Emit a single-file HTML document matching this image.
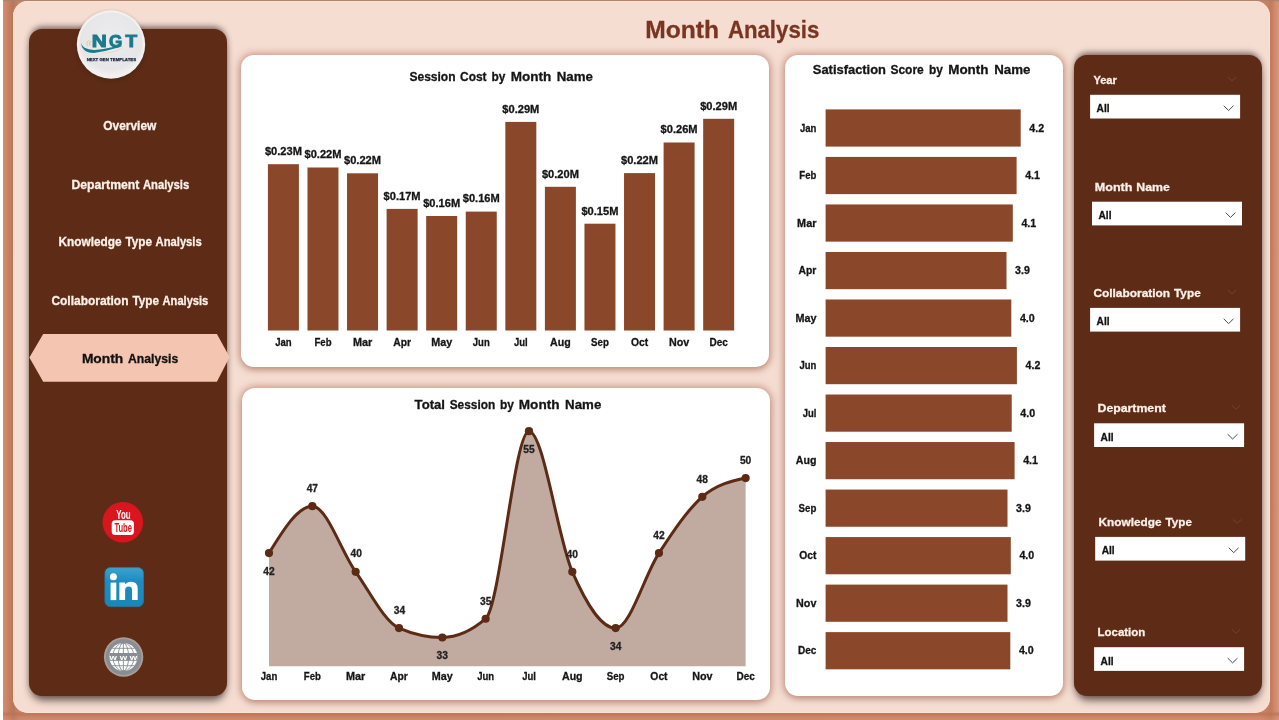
<!DOCTYPE html>
<html><head><meta charset="utf-8"><title>Month Analysis</title>
<style>
html,body{margin:0;padding:0;}
body{width:1279px;height:720px;overflow:hidden;position:relative;background:#fffefb;font-family:"Liberation Sans", sans-serif;}
.abs{position:absolute;}
#outer{left:3px;top:0;width:1276px;height:720px;background:linear-gradient(90deg,#d28d75 0px,#cb8465 4px,#c07b5b 8px,#b97557 10px,#c9856a 16px,#cf8868 1258px,#c27b5c 1268px,#cf8a6c 1272px,#d9977c 1276px);}
#outer2{left:3px;top:0;width:1276px;height:720px;background:linear-gradient(180deg,rgba(168,128,108,1) 0px,rgba(168,128,108,0) 2px,rgba(0,0,0,0) 711px,rgba(185,115,85,.8) 714px,rgba(200,130,100,.3) 717px,rgba(215,145,120,.4) 720px);}
#inner{left:13px;top:1px;width:1257px;height:712px;border-radius:15px;background:#f5ddd2;box-shadow:inset 0 0 1px 1px rgba(255,224,212,.95);}
.panel{background:#5e2c16;border-radius:13px;box-shadow:0 0 6px 0 rgba(70,50,45,.32),0 -5px 6px -3px rgba(60,42,38,.6),0 7px 9px -3px rgba(60,42,38,.75);}
.card{background:#fff;border-radius:13px;box-shadow:0 0 7px 2px rgba(175,112,90,.58),0 4px 7px -2px rgba(140,98,82,.42);}
svg text{font-family:"Liberation Sans", sans-serif;}
</style></head><body>
<div id="outer" class="abs"></div>
<div id="outer2" class="abs"></div>
<div id="inner" class="abs"></div>
<div class="abs panel" style="left:29px;top:29px;width:197.5px;height:666.5px;"></div>
<div class="abs panel" style="left:1074px;top:55px;width:188px;height:640.5px;"></div>
<div class="abs card" style="left:241px;top:55px;width:528px;height:312px;"></div>
<div class="abs card" style="left:242px;top:388px;width:528px;height:312px;"></div>
<div class="abs card" style="left:785px;top:55px;width:278px;height:641px;"></div>
<svg class="abs" style="left:0;top:0;will-change:transform" width="1279" height="720" viewBox="0 0 1279 720">
<text x="645.3" y="37.6" font-size="24.3" font-weight="bold" fill="#7a3520" text-anchor="start" textLength="73.8" lengthAdjust="spacingAndGlyphs" stroke="#7a3520" stroke-width="0.3">Month</text>
<text x="727.9" y="37.6" font-size="24.3" font-weight="bold" fill="#7a3520" text-anchor="start" textLength="91.4" lengthAdjust="spacingAndGlyphs" stroke="#7a3520" stroke-width="0.3">Analysis</text>
<text x="409.4" y="81.2" font-size="12.8" font-weight="bold" fill="#151515" text-anchor="start" textLength="46.2" lengthAdjust="spacingAndGlyphs" stroke="#151515" stroke-width="0.3">Session</text>
<text x="460.0" y="81.2" font-size="12.8" font-weight="bold" fill="#151515" text-anchor="start" textLength="26.6" lengthAdjust="spacingAndGlyphs" stroke="#151515" stroke-width="0.3">Cost</text>
<text x="491.6" y="81.2" font-size="12.8" font-weight="bold" fill="#151515" text-anchor="start" textLength="13.9" lengthAdjust="spacingAndGlyphs" stroke="#151515" stroke-width="0.3">by</text>
<text x="510.7" y="81.2" font-size="12.8" font-weight="bold" fill="#151515" text-anchor="start" textLength="40.5" lengthAdjust="spacingAndGlyphs" stroke="#151515" stroke-width="0.3">Month</text>
<text x="556.7" y="81.2" font-size="12.8" font-weight="bold" fill="#151515" text-anchor="start" textLength="36.2" lengthAdjust="spacingAndGlyphs" stroke="#151515" stroke-width="0.3">Name</text>
<rect x="267.90" y="164.2" width="31" height="166.30" fill="#8b4729"/>
<text x="283.4" y="155.0" font-size="11.2" font-weight="bold" fill="#151515" text-anchor="middle" textLength="37" lengthAdjust="spacingAndGlyphs" stroke="#151515" stroke-width="0.3">$0.23M</text>
<text x="283.4" y="346" font-size="11" font-weight="bold" fill="#151515" text-anchor="middle" textLength="16.5" lengthAdjust="spacingAndGlyphs" stroke="#151515" stroke-width="0.3">Jan</text>
<rect x="307.47" y="167.5" width="31" height="163.00" fill="#8b4729"/>
<text x="322.97" y="158.3" font-size="11.2" font-weight="bold" fill="#151515" text-anchor="middle" textLength="37" lengthAdjust="spacingAndGlyphs" stroke="#151515" stroke-width="0.3">$0.22M</text>
<text x="322.97" y="346" font-size="11" font-weight="bold" fill="#151515" text-anchor="middle" textLength="17.1" lengthAdjust="spacingAndGlyphs" stroke="#151515" stroke-width="0.3">Feb</text>
<rect x="347.04" y="173.3" width="31" height="157.20" fill="#8b4729"/>
<text x="362.54" y="164.1" font-size="11.2" font-weight="bold" fill="#151515" text-anchor="middle" textLength="37" lengthAdjust="spacingAndGlyphs" stroke="#151515" stroke-width="0.3">$0.22M</text>
<text x="362.54" y="346" font-size="11" font-weight="bold" fill="#151515" text-anchor="middle" textLength="19.3" lengthAdjust="spacingAndGlyphs" stroke="#151515" stroke-width="0.3">Mar</text>
<rect x="386.61" y="208.9" width="31" height="121.60" fill="#8b4729"/>
<text x="402.11" y="199.7" font-size="11.2" font-weight="bold" fill="#151515" text-anchor="middle" textLength="37" lengthAdjust="spacingAndGlyphs" stroke="#151515" stroke-width="0.3">$0.17M</text>
<text x="402.11" y="346" font-size="11" font-weight="bold" fill="#151515" text-anchor="middle" textLength="17.8" lengthAdjust="spacingAndGlyphs" stroke="#151515" stroke-width="0.3">Apr</text>
<rect x="426.18" y="216" width="31" height="114.50" fill="#8b4729"/>
<text x="441.68" y="206.8" font-size="11.2" font-weight="bold" fill="#151515" text-anchor="middle" textLength="37" lengthAdjust="spacingAndGlyphs" stroke="#151515" stroke-width="0.3">$0.16M</text>
<text x="441.68" y="346" font-size="11" font-weight="bold" fill="#151515" text-anchor="middle" textLength="21" lengthAdjust="spacingAndGlyphs" stroke="#151515" stroke-width="0.3">May</text>
<rect x="465.75" y="211.6" width="31" height="118.90" fill="#8b4729"/>
<text x="481.25" y="202.4" font-size="11.2" font-weight="bold" fill="#151515" text-anchor="middle" textLength="37" lengthAdjust="spacingAndGlyphs" stroke="#151515" stroke-width="0.3">$0.16M</text>
<text x="481.25" y="346" font-size="11" font-weight="bold" fill="#151515" text-anchor="middle" textLength="16.9" lengthAdjust="spacingAndGlyphs" stroke="#151515" stroke-width="0.3">Jun</text>
<rect x="505.32" y="121.9" width="31" height="208.60" fill="#8b4729"/>
<text x="520.82" y="112.7" font-size="11.2" font-weight="bold" fill="#151515" text-anchor="middle" textLength="37" lengthAdjust="spacingAndGlyphs" stroke="#151515" stroke-width="0.3">$0.29M</text>
<text x="520.82" y="346" font-size="11" font-weight="bold" fill="#151515" text-anchor="middle" textLength="13.7" lengthAdjust="spacingAndGlyphs" stroke="#151515" stroke-width="0.3">Jul</text>
<rect x="544.89" y="186.8" width="31" height="143.70" fill="#8b4729"/>
<text x="560.39" y="177.6" font-size="11.2" font-weight="bold" fill="#151515" text-anchor="middle" textLength="37" lengthAdjust="spacingAndGlyphs" stroke="#151515" stroke-width="0.3">$0.20M</text>
<text x="560.39" y="346" font-size="11" font-weight="bold" fill="#151515" text-anchor="middle" textLength="20.6" lengthAdjust="spacingAndGlyphs" stroke="#151515" stroke-width="0.3">Aug</text>
<rect x="584.46" y="223.7" width="31" height="106.80" fill="#8b4729"/>
<text x="599.96" y="214.5" font-size="11.2" font-weight="bold" fill="#151515" text-anchor="middle" textLength="37" lengthAdjust="spacingAndGlyphs" stroke="#151515" stroke-width="0.3">$0.15M</text>
<text x="599.96" y="346" font-size="11" font-weight="bold" fill="#151515" text-anchor="middle" textLength="17.8" lengthAdjust="spacingAndGlyphs" stroke="#151515" stroke-width="0.3">Sep</text>
<rect x="624.03" y="173.1" width="31" height="157.40" fill="#8b4729"/>
<text x="639.53" y="163.9" font-size="11.2" font-weight="bold" fill="#151515" text-anchor="middle" textLength="37" lengthAdjust="spacingAndGlyphs" stroke="#151515" stroke-width="0.3">$0.22M</text>
<text x="639.53" y="346" font-size="11" font-weight="bold" fill="#151515" text-anchor="middle" textLength="17.2" lengthAdjust="spacingAndGlyphs" stroke="#151515" stroke-width="0.3">Oct</text>
<rect x="663.60" y="142.5" width="31" height="188.00" fill="#8b4729"/>
<text x="679.1" y="133.3" font-size="11.2" font-weight="bold" fill="#151515" text-anchor="middle" textLength="37" lengthAdjust="spacingAndGlyphs" stroke="#151515" stroke-width="0.3">$0.26M</text>
<text x="679.1" y="346" font-size="11" font-weight="bold" fill="#151515" text-anchor="middle" textLength="20.3" lengthAdjust="spacingAndGlyphs" stroke="#151515" stroke-width="0.3">Nov</text>
<rect x="703.17" y="118.8" width="31" height="211.70" fill="#8b4729"/>
<text x="718.67" y="109.6" font-size="11.2" font-weight="bold" fill="#151515" text-anchor="middle" textLength="37" lengthAdjust="spacingAndGlyphs" stroke="#151515" stroke-width="0.3">$0.29M</text>
<text x="718.67" y="346" font-size="11" font-weight="bold" fill="#151515" text-anchor="middle" textLength="18.4" lengthAdjust="spacingAndGlyphs" stroke="#151515" stroke-width="0.3">Dec</text>
<text x="414.6" y="409.3" font-size="12.8" font-weight="bold" fill="#151515" text-anchor="start" textLength="30.4" lengthAdjust="spacingAndGlyphs" stroke="#151515" stroke-width="0.3">Total</text>
<text x="449.7" y="409.3" font-size="12.8" font-weight="bold" fill="#151515" text-anchor="start" textLength="45.6" lengthAdjust="spacingAndGlyphs" stroke="#151515" stroke-width="0.3">Session</text>
<text x="500.0" y="409.3" font-size="12.8" font-weight="bold" fill="#151515" text-anchor="start" textLength="13.9" lengthAdjust="spacingAndGlyphs" stroke="#151515" stroke-width="0.3">by</text>
<text x="518.8" y="409.3" font-size="12.8" font-weight="bold" fill="#151515" text-anchor="start" textLength="40.7" lengthAdjust="spacingAndGlyphs" stroke="#151515" stroke-width="0.3">Month</text>
<text x="565.1" y="409.3" font-size="12.8" font-weight="bold" fill="#151515" text-anchor="start" textLength="36.2" lengthAdjust="spacingAndGlyphs" stroke="#151515" stroke-width="0.3">Name</text>
<path d="M269.00,553.10C283.44,529.66 297.89,506.22 312.33,506.22C326.77,506.22 341.22,551.54 355.66,571.86C370.10,592.17 384.55,621.87 398.99,628.12C413.43,634.37 427.88,637.49 442.32,637.49C456.76,637.49 471.21,631.24 485.65,618.74C500.09,606.24 514.54,431.20 528.98,431.20C543.42,431.20 557.87,539.04 572.31,571.86C586.75,604.67 601.20,628.12 615.64,628.12C630.08,628.12 644.53,574.98 658.97,553.10C673.41,531.22 687.86,509.34 702.30,496.84C716.74,484.34 731.19,481.21 745.63,478.08L745.63,666.3L269.00,666.3Z" fill="#c1aba1"/>
<path d="M269.00,553.10C283.44,529.66 297.89,506.22 312.33,506.22C326.77,506.22 341.22,551.54 355.66,571.86C370.10,592.17 384.55,621.87 398.99,628.12C413.43,634.37 427.88,637.49 442.32,637.49C456.76,637.49 471.21,631.24 485.65,618.74C500.09,606.24 514.54,431.20 528.98,431.20C543.42,431.20 557.87,539.04 572.31,571.86C586.75,604.67 601.20,628.12 615.64,628.12C630.08,628.12 644.53,574.98 658.97,553.10C673.41,531.22 687.86,509.34 702.30,496.84C716.74,484.34 731.19,481.21 745.63,478.08" fill="none" stroke="#5c2a15" stroke-width="3" stroke-linecap="round"/>
<circle cx="269.00" cy="553.10" r="4.1" fill="#5c2a15"/>
<circle cx="312.33" cy="506.22" r="4.1" fill="#5c2a15"/>
<circle cx="355.66" cy="571.86" r="4.1" fill="#5c2a15"/>
<circle cx="398.99" cy="628.12" r="4.1" fill="#5c2a15"/>
<circle cx="442.32" cy="637.49" r="4.1" fill="#5c2a15"/>
<circle cx="485.65" cy="618.74" r="4.1" fill="#5c2a15"/>
<circle cx="528.98" cy="431.20" r="4.1" fill="#5c2a15"/>
<circle cx="572.31" cy="571.86" r="4.1" fill="#5c2a15"/>
<circle cx="615.64" cy="628.12" r="4.1" fill="#5c2a15"/>
<circle cx="658.97" cy="553.10" r="4.1" fill="#5c2a15"/>
<circle cx="702.30" cy="496.84" r="4.1" fill="#5c2a15"/>
<circle cx="745.63" cy="478.08" r="4.1" fill="#5c2a15"/>
<text x="269.0" y="574.7" font-size="10.6" font-weight="bold" fill="#222" text-anchor="middle" textLength="11.4" lengthAdjust="spacingAndGlyphs" stroke="#222" stroke-width="0.3">42</text>
<text x="269.0" y="680" font-size="11" font-weight="bold" fill="#151515" text-anchor="middle" textLength="16.5" lengthAdjust="spacingAndGlyphs" stroke="#151515" stroke-width="0.3">Jan</text>
<text x="312.33" y="492.2" font-size="10.6" font-weight="bold" fill="#222" text-anchor="middle" textLength="11.4" lengthAdjust="spacingAndGlyphs" stroke="#222" stroke-width="0.3">47</text>
<text x="312.33" y="680" font-size="11" font-weight="bold" fill="#151515" text-anchor="middle" textLength="17.1" lengthAdjust="spacingAndGlyphs" stroke="#151515" stroke-width="0.3">Feb</text>
<text x="356.16" y="557.1" font-size="10.6" font-weight="bold" fill="#222" text-anchor="middle" textLength="11.4" lengthAdjust="spacingAndGlyphs" stroke="#222" stroke-width="0.3">40</text>
<text x="355.66" y="680" font-size="11" font-weight="bold" fill="#151515" text-anchor="middle" textLength="19.3" lengthAdjust="spacingAndGlyphs" stroke="#151515" stroke-width="0.3">Mar</text>
<text x="399.39" y="613.8" font-size="10.6" font-weight="bold" fill="#222" text-anchor="middle" textLength="11.4" lengthAdjust="spacingAndGlyphs" stroke="#222" stroke-width="0.3">34</text>
<text x="398.99" y="680" font-size="11" font-weight="bold" fill="#151515" text-anchor="middle" textLength="17.8" lengthAdjust="spacingAndGlyphs" stroke="#151515" stroke-width="0.3">Apr</text>
<text x="442.32" y="659.1" font-size="10.6" font-weight="bold" fill="#222" text-anchor="middle" textLength="11.4" lengthAdjust="spacingAndGlyphs" stroke="#222" stroke-width="0.3">33</text>
<text x="442.32" y="680" font-size="11" font-weight="bold" fill="#151515" text-anchor="middle" textLength="21" lengthAdjust="spacingAndGlyphs" stroke="#151515" stroke-width="0.3">May</text>
<text x="485.65" y="605.0" font-size="10.6" font-weight="bold" fill="#222" text-anchor="middle" textLength="11.4" lengthAdjust="spacingAndGlyphs" stroke="#222" stroke-width="0.3">35</text>
<text x="485.65" y="680" font-size="11" font-weight="bold" fill="#151515" text-anchor="middle" textLength="16.9" lengthAdjust="spacingAndGlyphs" stroke="#151515" stroke-width="0.3">Jun</text>
<text x="528.98" y="452.8" font-size="10.6" font-weight="bold" fill="#222" text-anchor="middle" textLength="11.4" lengthAdjust="spacingAndGlyphs" stroke="#222" stroke-width="0.3">55</text>
<text x="528.98" y="680" font-size="11" font-weight="bold" fill="#151515" text-anchor="middle" textLength="13.7" lengthAdjust="spacingAndGlyphs" stroke="#151515" stroke-width="0.3">Jul</text>
<text x="572.31" y="557.9" font-size="10.6" font-weight="bold" fill="#222" text-anchor="middle" textLength="11.4" lengthAdjust="spacingAndGlyphs" stroke="#222" stroke-width="0.3">40</text>
<text x="572.31" y="680" font-size="11" font-weight="bold" fill="#151515" text-anchor="middle" textLength="20.6" lengthAdjust="spacingAndGlyphs" stroke="#151515" stroke-width="0.3">Aug</text>
<text x="615.64" y="649.7" font-size="10.6" font-weight="bold" fill="#222" text-anchor="middle" textLength="11.4" lengthAdjust="spacingAndGlyphs" stroke="#222" stroke-width="0.3">34</text>
<text x="615.64" y="680" font-size="11" font-weight="bold" fill="#151515" text-anchor="middle" textLength="17.8" lengthAdjust="spacingAndGlyphs" stroke="#151515" stroke-width="0.3">Sep</text>
<text x="658.97" y="539.1" font-size="10.6" font-weight="bold" fill="#222" text-anchor="middle" textLength="11.4" lengthAdjust="spacingAndGlyphs" stroke="#222" stroke-width="0.3">42</text>
<text x="658.97" y="680" font-size="11" font-weight="bold" fill="#151515" text-anchor="middle" textLength="17.2" lengthAdjust="spacingAndGlyphs" stroke="#151515" stroke-width="0.3">Oct</text>
<text x="702.3" y="482.8" font-size="10.6" font-weight="bold" fill="#222" text-anchor="middle" textLength="11.4" lengthAdjust="spacingAndGlyphs" stroke="#222" stroke-width="0.3">48</text>
<text x="702.3" y="680" font-size="11" font-weight="bold" fill="#151515" text-anchor="middle" textLength="20.3" lengthAdjust="spacingAndGlyphs" stroke="#151515" stroke-width="0.3">Nov</text>
<text x="745.63" y="464.1" font-size="10.6" font-weight="bold" fill="#222" text-anchor="middle" textLength="11.4" lengthAdjust="spacingAndGlyphs" stroke="#222" stroke-width="0.3">50</text>
<text x="745.63" y="680" font-size="11" font-weight="bold" fill="#151515" text-anchor="middle" textLength="18.4" lengthAdjust="spacingAndGlyphs" stroke="#151515" stroke-width="0.3">Dec</text>
<text x="812.8" y="74.3" font-size="12.8" font-weight="bold" fill="#151515" text-anchor="start" textLength="73.2" lengthAdjust="spacingAndGlyphs" stroke="#151515" stroke-width="0.3">Satisfaction</text>
<text x="890.4" y="74.3" font-size="12.8" font-weight="bold" fill="#151515" text-anchor="start" textLength="33.4" lengthAdjust="spacingAndGlyphs" stroke="#151515" stroke-width="0.3">Score</text>
<text x="929.1" y="74.3" font-size="12.8" font-weight="bold" fill="#151515" text-anchor="start" textLength="13.9" lengthAdjust="spacingAndGlyphs" stroke="#151515" stroke-width="0.3">by</text>
<text x="948.2" y="74.3" font-size="12.8" font-weight="bold" fill="#151515" text-anchor="start" textLength="40.3" lengthAdjust="spacingAndGlyphs" stroke="#151515" stroke-width="0.3">Month</text>
<text x="994.2" y="74.3" font-size="12.8" font-weight="bold" fill="#151515" text-anchor="start" textLength="36.2" lengthAdjust="spacingAndGlyphs" stroke="#151515" stroke-width="0.3">Name</text>
<rect x="825.6" y="109.40" width="195.10" height="37.2" fill="#8b4729"/>
<text x="816.4" y="131.5" font-size="11" font-weight="bold" fill="#151515" text-anchor="end" textLength="16.5" lengthAdjust="spacingAndGlyphs" stroke="#151515" stroke-width="0.3">Jan</text>
<text x="1029.3" y="131.5" font-size="11" font-weight="bold" fill="#151515" text-anchor="start" textLength="14.8" lengthAdjust="spacingAndGlyphs" stroke="#151515" stroke-width="0.3">4.2</text>
<rect x="825.6" y="156.92" width="191.00" height="37.2" fill="#8b4729"/>
<text x="816.4" y="179.0" font-size="11" font-weight="bold" fill="#151515" text-anchor="end" textLength="17.1" lengthAdjust="spacingAndGlyphs" stroke="#151515" stroke-width="0.3">Feb</text>
<text x="1025.2" y="179.0" font-size="11" font-weight="bold" fill="#151515" text-anchor="start" textLength="14.8" lengthAdjust="spacingAndGlyphs" stroke="#151515" stroke-width="0.3">4.1</text>
<rect x="825.6" y="204.44" width="187.20" height="37.2" fill="#8b4729"/>
<text x="816.4" y="226.5" font-size="11" font-weight="bold" fill="#151515" text-anchor="end" textLength="19.3" lengthAdjust="spacingAndGlyphs" stroke="#151515" stroke-width="0.3">Mar</text>
<text x="1021.4" y="226.5" font-size="11" font-weight="bold" fill="#151515" text-anchor="start" textLength="14.8" lengthAdjust="spacingAndGlyphs" stroke="#151515" stroke-width="0.3">4.1</text>
<rect x="825.6" y="251.96" width="180.90" height="37.2" fill="#8b4729"/>
<text x="816.4" y="274.1" font-size="11" font-weight="bold" fill="#151515" text-anchor="end" textLength="17.8" lengthAdjust="spacingAndGlyphs" stroke="#151515" stroke-width="0.3">Apr</text>
<text x="1015.1" y="274.1" font-size="11" font-weight="bold" fill="#151515" text-anchor="start" textLength="14.8" lengthAdjust="spacingAndGlyphs" stroke="#151515" stroke-width="0.3">3.9</text>
<rect x="825.6" y="299.48" width="185.70" height="37.2" fill="#8b4729"/>
<text x="816.4" y="321.6" font-size="11" font-weight="bold" fill="#151515" text-anchor="end" textLength="21" lengthAdjust="spacingAndGlyphs" stroke="#151515" stroke-width="0.3">May</text>
<text x="1019.9" y="321.6" font-size="11" font-weight="bold" fill="#151515" text-anchor="start" textLength="14.8" lengthAdjust="spacingAndGlyphs" stroke="#151515" stroke-width="0.3">4.0</text>
<rect x="825.6" y="347.00" width="191.30" height="37.2" fill="#8b4729"/>
<text x="816.4" y="369.1" font-size="11" font-weight="bold" fill="#151515" text-anchor="end" textLength="16.9" lengthAdjust="spacingAndGlyphs" stroke="#151515" stroke-width="0.3">Jun</text>
<text x="1025.5" y="369.1" font-size="11" font-weight="bold" fill="#151515" text-anchor="start" textLength="14.8" lengthAdjust="spacingAndGlyphs" stroke="#151515" stroke-width="0.3">4.2</text>
<rect x="825.6" y="394.52" width="186.10" height="37.2" fill="#8b4729"/>
<text x="816.4" y="416.6" font-size="11" font-weight="bold" fill="#151515" text-anchor="end" textLength="13.7" lengthAdjust="spacingAndGlyphs" stroke="#151515" stroke-width="0.3">Jul</text>
<text x="1020.3" y="416.6" font-size="11" font-weight="bold" fill="#151515" text-anchor="start" textLength="14.8" lengthAdjust="spacingAndGlyphs" stroke="#151515" stroke-width="0.3">4.0</text>
<rect x="825.6" y="442.04" width="189.00" height="37.2" fill="#8b4729"/>
<text x="816.4" y="464.1" font-size="11" font-weight="bold" fill="#151515" text-anchor="end" textLength="20.6" lengthAdjust="spacingAndGlyphs" stroke="#151515" stroke-width="0.3">Aug</text>
<text x="1023.2" y="464.1" font-size="11" font-weight="bold" fill="#151515" text-anchor="start" textLength="14.8" lengthAdjust="spacingAndGlyphs" stroke="#151515" stroke-width="0.3">4.1</text>
<rect x="825.6" y="489.56" width="181.90" height="37.2" fill="#8b4729"/>
<text x="816.4" y="511.7" font-size="11" font-weight="bold" fill="#151515" text-anchor="end" textLength="17.8" lengthAdjust="spacingAndGlyphs" stroke="#151515" stroke-width="0.3">Sep</text>
<text x="1016.1" y="511.7" font-size="11" font-weight="bold" fill="#151515" text-anchor="start" textLength="14.8" lengthAdjust="spacingAndGlyphs" stroke="#151515" stroke-width="0.3">3.9</text>
<rect x="825.6" y="537.08" width="185.20" height="37.2" fill="#8b4729"/>
<text x="816.4" y="559.2" font-size="11" font-weight="bold" fill="#151515" text-anchor="end" textLength="17.2" lengthAdjust="spacingAndGlyphs" stroke="#151515" stroke-width="0.3">Oct</text>
<text x="1019.4" y="559.2" font-size="11" font-weight="bold" fill="#151515" text-anchor="start" textLength="14.8" lengthAdjust="spacingAndGlyphs" stroke="#151515" stroke-width="0.3">4.0</text>
<rect x="825.6" y="584.60" width="181.90" height="37.2" fill="#8b4729"/>
<text x="816.4" y="606.7" font-size="11" font-weight="bold" fill="#151515" text-anchor="end" textLength="20.3" lengthAdjust="spacingAndGlyphs" stroke="#151515" stroke-width="0.3">Nov</text>
<text x="1016.1" y="606.7" font-size="11" font-weight="bold" fill="#151515" text-anchor="start" textLength="14.8" lengthAdjust="spacingAndGlyphs" stroke="#151515" stroke-width="0.3">3.9</text>
<rect x="825.6" y="632.12" width="184.70" height="37.2" fill="#8b4729"/>
<text x="816.4" y="654.2" font-size="11" font-weight="bold" fill="#151515" text-anchor="end" textLength="18.4" lengthAdjust="spacingAndGlyphs" stroke="#151515" stroke-width="0.3">Dec</text>
<text x="1018.9" y="654.2" font-size="11" font-weight="bold" fill="#151515" text-anchor="start" textLength="14.8" lengthAdjust="spacingAndGlyphs" stroke="#151515" stroke-width="0.3">4.0</text>
<text x="129.8" y="129.9" font-size="12" font-weight="bold" fill="#fdf1ea" text-anchor="middle" textLength="53.1" lengthAdjust="spacingAndGlyphs" stroke="#fdf1ea" stroke-width="0.3">Overview</text>
<text x="71.4" y="188.7" font-size="12" font-weight="bold" fill="#fdf1ea" text-anchor="start" textLength="68.0" lengthAdjust="spacingAndGlyphs" stroke="#fdf1ea" stroke-width="0.3">Department</text>
<text x="142.9" y="188.7" font-size="12" font-weight="bold" fill="#fdf1ea" text-anchor="start" textLength="46.3" lengthAdjust="spacingAndGlyphs" stroke="#fdf1ea" stroke-width="0.3">Analysis</text>
<text x="58.5" y="246.1" font-size="12" font-weight="bold" fill="#fdf1ea" text-anchor="start" textLength="63.0" lengthAdjust="spacingAndGlyphs" stroke="#fdf1ea" stroke-width="0.3">Knowledge</text>
<text x="125.4" y="246.1" font-size="12" font-weight="bold" fill="#fdf1ea" text-anchor="start" textLength="26.6" lengthAdjust="spacingAndGlyphs" stroke="#fdf1ea" stroke-width="0.3">Type</text>
<text x="155.6" y="246.1" font-size="12" font-weight="bold" fill="#fdf1ea" text-anchor="start" textLength="46.1" lengthAdjust="spacingAndGlyphs" stroke="#fdf1ea" stroke-width="0.3">Analysis</text>
<text x="51.4" y="305.1" font-size="12" font-weight="bold" fill="#fdf1ea" text-anchor="start" textLength="77.1" lengthAdjust="spacingAndGlyphs" stroke="#fdf1ea" stroke-width="0.3">Collaboration</text>
<text x="132.4" y="305.1" font-size="12" font-weight="bold" fill="#fdf1ea" text-anchor="start" textLength="26.6" lengthAdjust="spacingAndGlyphs" stroke="#fdf1ea" stroke-width="0.3">Type</text>
<text x="162.6" y="305.1" font-size="12" font-weight="bold" fill="#fdf1ea" text-anchor="start" textLength="45.7" lengthAdjust="spacingAndGlyphs" stroke="#fdf1ea" stroke-width="0.3">Analysis</text>
<path d="M29.4,357.6 L43.2,333.9 L216.9,333.9 L229.6,357 L216.9,381.8 L43.2,381.8 Z" fill="#f4c5b0"/>
<text x="81.9" y="363.2" font-size="13" font-weight="bold" fill="#111" text-anchor="start" textLength="41.3" lengthAdjust="spacingAndGlyphs" stroke="#111" stroke-width="0.3">Month</text>
<text x="128.0" y="363.2" font-size="13" font-weight="bold" fill="#111" text-anchor="start" textLength="50.2" lengthAdjust="spacingAndGlyphs" stroke="#111" stroke-width="0.3">Analysis</text>
<text x="1093.4" y="84" font-size="11.6" font-weight="bold" fill="#fdf1ea" text-anchor="start" textLength="23.5" lengthAdjust="spacingAndGlyphs" stroke="#fdf1ea" stroke-width="0.3">Year</text>
<rect x="1090.1" y="94.8" width="150" height="23.7" fill="#fff"/>
<text x="1096.6" y="112.1" font-size="10.6" font-weight="bold" fill="#111" text-anchor="start" textLength="13" lengthAdjust="spacingAndGlyphs" stroke="#111" stroke-width="0.3">All</text>
<path d="M1223.7,105.7 L1228.6,110.5 L1233.5,105.7" fill="none" stroke="#4a4a4a" stroke-width="1"/>
<path d="M1227.8,77.0 L1232.0,80.8 L1236.2,77.0" fill="none" stroke="#7d4a36" stroke-width="1" opacity="0.75"/>
<text x="1094.8" y="190.7" font-size="11.6" font-weight="bold" fill="#fdf1ea" text-anchor="start" textLength="37.6" lengthAdjust="spacingAndGlyphs" stroke="#fdf1ea" stroke-width="0.3">Month</text>
<text x="1136.3" y="190.7" font-size="11.6" font-weight="bold" fill="#fdf1ea" text-anchor="start" textLength="33.5" lengthAdjust="spacingAndGlyphs" stroke="#fdf1ea" stroke-width="0.3">Name</text>
<rect x="1092" y="201.7" width="150" height="23.7" fill="#fff"/>
<text x="1098.5" y="219.0" font-size="10.6" font-weight="bold" fill="#111" text-anchor="start" textLength="13" lengthAdjust="spacingAndGlyphs" stroke="#111" stroke-width="0.3">All</text>
<path d="M1225.6,212.6 L1230.5,217.4 L1235.4,212.6" fill="none" stroke="#4a4a4a" stroke-width="1"/>
<text x="1093.4" y="297" font-size="11.6" font-weight="bold" fill="#fdf1ea" text-anchor="start" textLength="76.7" lengthAdjust="spacingAndGlyphs" stroke="#fdf1ea" stroke-width="0.3">Collaboration</text>
<text x="1174.0" y="297" font-size="11.6" font-weight="bold" fill="#fdf1ea" text-anchor="start" textLength="26.7" lengthAdjust="spacingAndGlyphs" stroke="#fdf1ea" stroke-width="0.3">Type</text>
<rect x="1090.1" y="307.9" width="150" height="23.7" fill="#fff"/>
<text x="1096.6" y="325.2" font-size="10.6" font-weight="bold" fill="#111" text-anchor="start" textLength="13" lengthAdjust="spacingAndGlyphs" stroke="#111" stroke-width="0.3">All</text>
<path d="M1223.7,318.8 L1228.6,323.6 L1233.5,318.8" fill="none" stroke="#4a4a4a" stroke-width="1"/>
<path d="M1227.8,290.0 L1232.0,293.8 L1236.2,290.0" fill="none" stroke="#7d4a36" stroke-width="1" opacity="0.75"/>
<text x="1097.6" y="412.4" font-size="11.6" font-weight="bold" fill="#fdf1ea" text-anchor="start" textLength="68.2" lengthAdjust="spacingAndGlyphs" stroke="#fdf1ea" stroke-width="0.3">Department</text>
<rect x="1094.1" y="423.3" width="150" height="23.7" fill="#fff"/>
<text x="1100.6" y="440.6" font-size="10.6" font-weight="bold" fill="#111" text-anchor="start" textLength="13" lengthAdjust="spacingAndGlyphs" stroke="#111" stroke-width="0.3">All</text>
<path d="M1227.7,434.2 L1232.6,439.0 L1237.5,434.2" fill="none" stroke="#4a4a4a" stroke-width="1"/>
<path d="M1231.8,405.4 L1236.0,409.2 L1240.2,405.4" fill="none" stroke="#7d4a36" stroke-width="1" opacity="0.75"/>
<text x="1098.6" y="526.4" font-size="11.6" font-weight="bold" fill="#fdf1ea" text-anchor="start" textLength="63.0" lengthAdjust="spacingAndGlyphs" stroke="#fdf1ea" stroke-width="0.3">Knowledge</text>
<text x="1165.6" y="526.4" font-size="11.6" font-weight="bold" fill="#fdf1ea" text-anchor="start" textLength="26.3" lengthAdjust="spacingAndGlyphs" stroke="#fdf1ea" stroke-width="0.3">Type</text>
<rect x="1095.2" y="536.9" width="150" height="23.7" fill="#fff"/>
<text x="1101.7" y="554.2" font-size="10.6" font-weight="bold" fill="#111" text-anchor="start" textLength="13" lengthAdjust="spacingAndGlyphs" stroke="#111" stroke-width="0.3">All</text>
<path d="M1228.8,547.8 L1233.7,552.6 L1238.6,547.8" fill="none" stroke="#4a4a4a" stroke-width="1"/>
<path d="M1232.9,519.4 L1237.1,523.2 L1241.3,519.4" fill="none" stroke="#7d4a36" stroke-width="1" opacity="0.75"/>
<text x="1097.6" y="636.4" font-size="11.6" font-weight="bold" fill="#fdf1ea" text-anchor="start" textLength="47.6" lengthAdjust="spacingAndGlyphs" stroke="#fdf1ea" stroke-width="0.3">Location</text>
<rect x="1094.1" y="647.2" width="150" height="23.7" fill="#fff"/>
<text x="1100.6" y="664.5" font-size="10.6" font-weight="bold" fill="#111" text-anchor="start" textLength="13" lengthAdjust="spacingAndGlyphs" stroke="#111" stroke-width="0.3">All</text>
<path d="M1227.7,658.1 L1232.6,662.9 L1237.5,658.1" fill="none" stroke="#4a4a4a" stroke-width="1"/>
<path d="M1231.8,629.4 L1236.0,633.2 L1240.2,629.4" fill="none" stroke="#7d4a36" stroke-width="1" opacity="0.75"/>
<defs>
<radialGradient id="lg" cx="50%" cy="40%" r="60%"><stop offset="0" stop-color="#ececee"/><stop offset="0.8" stop-color="#e6e6e8"/><stop offset="1" stop-color="#f4f2f1"/></radialGradient>
<linearGradient id="li" x1="0" y1="0" x2="0" y2="1"><stop offset="0" stop-color="#3aa3cf"/><stop offset="0.35" stop-color="#1e8cc2"/><stop offset="1" stop-color="#1a86b8"/></linearGradient>
<filter id="lsh" x="-30%" y="-30%" width="160%" height="160%"><feGaussianBlur stdDeviation="2.2"/></filter>
<clipPath id="gc"><circle cx="123.4" cy="657" r="14"/></clipPath>
</defs>
<circle cx="111" cy="46.5" r="34" fill="#3a2018" opacity="0.55" filter="url(#lsh)"/>
<circle cx="111" cy="44.5" r="34.2" fill="#f3f1f0"/>
<circle cx="111" cy="44.5" r="32" fill="url(#lg)"/>
<path d="M89.2,40.2 Q85.6,42.6 87.6,46.2" fill="none" stroke="#e8cda8" stroke-width="1.1"/>
<path d="M91,41 Q88.6,43 90,45.6" fill="none" stroke="#e2b98f" stroke-width="1"/>
<path d="M100,53.3 Q112,52.6 123.6,47.6 Q113,54.6 100,53.3Z" fill="#ead9bb"/>
<path d="M81.1,42.9 Q82.2,46.2 84.6,47.8 Q88.5,50 94.4,49.9 Q103.3,49.4 114.4,46.7 Q119,45.9 122.6,46.6 Q118,47.4 114.4,48.6 Q103.3,52.2 93.9,53 Q87.5,53 84,49.8 Q81.3,47 81.1,42.9Z" fill="#1b7b8d"/>
<text x="91.7" y="47.3" font-size="17" font-weight="bold" fill="#1a7a8c" stroke="#1a7a8c" stroke-width="1" textLength="15" lengthAdjust="spacingAndGlyphs">N</text>
<text x="108.9" y="47.3" font-size="17" font-weight="bold" fill="#1a7a8c" stroke="#1a7a8c" stroke-width="1" textLength="13.3" lengthAdjust="spacingAndGlyphs">G</text>
<text x="125.6" y="47.3" font-size="17" font-weight="bold" fill="#1a7a8c" stroke="#1a7a8c" stroke-width="1" textLength="11.6" lengthAdjust="spacingAndGlyphs">T</text>
<text x="86.7" y="60.8" font-size="4.3" font-weight="bold" fill="#1d2740" stroke="#1d2740" stroke-width="0.25" textLength="49.4" lengthAdjust="spacingAndGlyphs">NEXT GEN TEMPLATES</text>
<circle cx="122.8" cy="522.3" r="20.3" fill="#d9161d"/>
<text x="123.4" y="518.7" font-size="12.8" font-weight="bold" fill="#fff" text-anchor="middle" textLength="14.4" lengthAdjust="spacingAndGlyphs">You</text>
<rect x="111.7" y="520.3" width="22.2" height="14.8" rx="3.6" fill="#fff"/>
<text x="123.2" y="532.1" font-size="12.3" font-weight="bold" fill="#d9161d" text-anchor="middle" textLength="17.6" lengthAdjust="spacingAndGlyphs">Tube</text>
<rect x="104.9" y="567.6" width="38.6" height="39" rx="5.5" fill="url(#li)" stroke="#2779a3" stroke-width="0.8"/>
<circle cx="113.4" cy="576.8" r="3.5" fill="#fff"/>
<rect x="110.6" y="582.6" width="5.7" height="17.5" fill="#fff"/>
<path d="M119.4,582.4 H125.1 V584.6 Q127.2,581.8 131.2,581.8 Q137.7,581.8 137.7,589 V600.1 H132 V590 Q132,586.6 128.8,586.6 Q125.1,586.6 125.1,590.6 V600.1 H119.4Z" fill="#fff"/>
<circle cx="123.6" cy="657" r="19.7" fill="#ab9c97"/>
<circle cx="123.6" cy="657" r="17.9" fill="#878d92"/>
<circle cx="123.4" cy="657" r="14" fill="#fff"/>
<g clip-path="url(#gc)" fill="none" stroke="#878d92" stroke-width="0.9"><ellipse cx="123.4" cy="657" rx="5.2" ry="14"/><ellipse cx="123.4" cy="657" rx="10.5" ry="14"/><line x1="123.4" y1="643" x2="123.4" y2="671"/><line x1="109" y1="648.3" x2="138" y2="648.3"/><line x1="109" y1="665.7" x2="138" y2="665.7"/><rect x="108" y="653" width="31" height="7.8" fill="#878d92" stroke="none"/></g>
<text x="123.4" y="660.2" font-size="8" font-weight="bold" fill="#fff" text-anchor="middle" textLength="27.6" lengthAdjust="spacingAndGlyphs">w w w</text>
</svg>
</body></html>
